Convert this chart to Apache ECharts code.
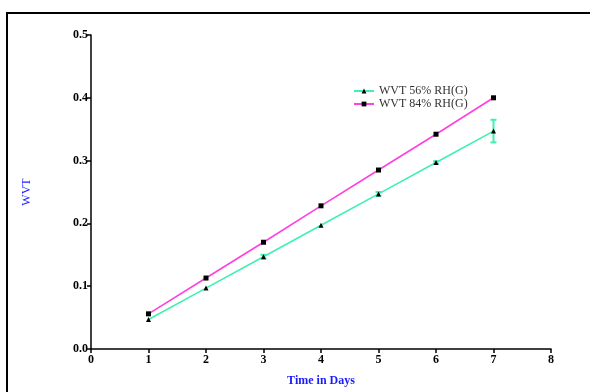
<!DOCTYPE html>
<html>
<head>
<meta charset="utf-8">
<script src="https://cdn.jsdelivr.net/npm/echarts@6/dist/echarts.min.js"></script>
<style>
  html, body { margin: 0; padding: 0; background: #fff; }
  #chart { width: 590px; height: 392px; }
</style>
</head>
<body>
<div id="chart"></div>
<script>
const days = [1, 2, 3, 4, 5, 6, 7]
const wvt56 = [0.047, 0.097, 0.147, 0.197, 0.247, 0.297, 0.347]
const wvt84 = [0.056, 0.113, 0.170, 0.228, 0.285, 0.342, 0.400]
const err56 = [0, 0, 0.003, 0, 0.003, 0.002, 0.018]

const green = '#3ff0b0'
const magenta = '#ff40e0'
const serif = 'Liberation Serif'

const chart = echarts.init(document.getElementById('chart'))

const option = {
  animation: false,
  graphic: [{
    type: 'rect',
    shape: { x: 7, y: 13, width: 620, height: 420 },
    style: { fill: 'none', stroke: '#000', lineWidth: 2 },
    silent: true
  }],
  grid: { left: 91, right: 39, top: 35, bottom: 43 },
  legend: {
    left: 348,
    top: 80,
    orient: 'vertical',
    itemWidth: 20,
    itemHeight: 6,
    itemGap: 1,
    data: ['WVT 56% RH(G)', 'WVT 84% RH(G)'],
    textStyle: { fontFamily: serif, fontSize: 12, color: '#333' }
  },
  xAxis: {
    type: 'value',
    min: 0, max: 8, interval: 1,
    name: 'Time in Days',
    nameLocation: 'middle',
    nameGap: 26,
    nameTextStyle: { fontFamily: serif, fontSize: 12, fontWeight: 'bold', color: '#1a1aff' },
    axisLine: { lineStyle: { color: '#000', width: 1.5 } },
    axisTick: { inside: false, length: 4, lineStyle: { color: '#000', width: 1.5 } },
    axisLabel: { fontFamily: serif, fontSize: 12, fontWeight: 'bold', color: '#000', margin: 5 },
    splitLine: { show: false }
  },
  yAxis: {
    type: 'value',
    min: 0, max: 0.5, interval: 0.1,
    name: 'WVT',
    nameLocation: 'middle',
    nameGap: 58,
    nameRotate: 90,
    nameTextStyle: { fontFamily: serif, fontSize: 12, color: '#1a1aff' },
    axisLine: { show: true, lineStyle: { color: '#000', width: 1.5 } },
    axisTick: { show: true, length: 4, lineStyle: { color: '#000', width: 1.5 } },
    axisLabel: {
      fontFamily: serif, fontSize: 12, fontWeight: 'bold', color: '#000', margin: 3,
      formatter: v => v.toFixed(1)
    },
    splitLine: { show: false }
  },
  series: [
    {
      name: 'WVT 56% RH(G)',
      type: 'line',
      data: days.map((d, i) => [d, wvt56[i]]),
      symbol: 'triangle',
      symbolSize: 5,
      showAllSymbol: true,
      lineStyle: { color: green, width: 1.6 },
      itemStyle: { color: '#000', borderWidth: 0 },
      z: 3
    },
    {
      name: 'WVT 84% RH(G)',
      type: 'line',
      data: days.map((d, i) => [d, wvt84[i]]),
      symbol: 'rect',
      symbolSize: 5,
      showAllSymbol: true,
      lineStyle: { color: magenta, width: 1.6 },
      itemStyle: { color: '#000', borderWidth: 0 },
      z: 3
    },
    {
      name: 'err56',
      type: 'custom',
      data: days.map((d, i) => [d, wvt56[i] - err56[i], wvt56[i] + err56[i]]),
      renderItem: (params, api) => {
        if (api.value(2) - api.value(1) <= 0) return null
        const lo = api.coord([api.value(0), api.value(1)])
        const hi = api.coord([api.value(0), api.value(2)])
        const w = 3
        const style = { stroke: green, lineWidth: 2 }
        return {
          type: 'group',
          children: [
            { type: 'line', shape: { x1: lo[0], y1: lo[1], x2: hi[0], y2: hi[1] }, style },
            { type: 'line', shape: { x1: lo[0] - w, y1: lo[1], x2: lo[0] + w, y2: lo[1] }, style },
            { type: 'line', shape: { x1: hi[0] - w, y1: hi[1], x2: hi[0] + w, y2: hi[1] }, style }
          ]
        }
      },
      z: 2
    }
  ]
}

chart.setOption(option)
</script>
</body>
</html>
